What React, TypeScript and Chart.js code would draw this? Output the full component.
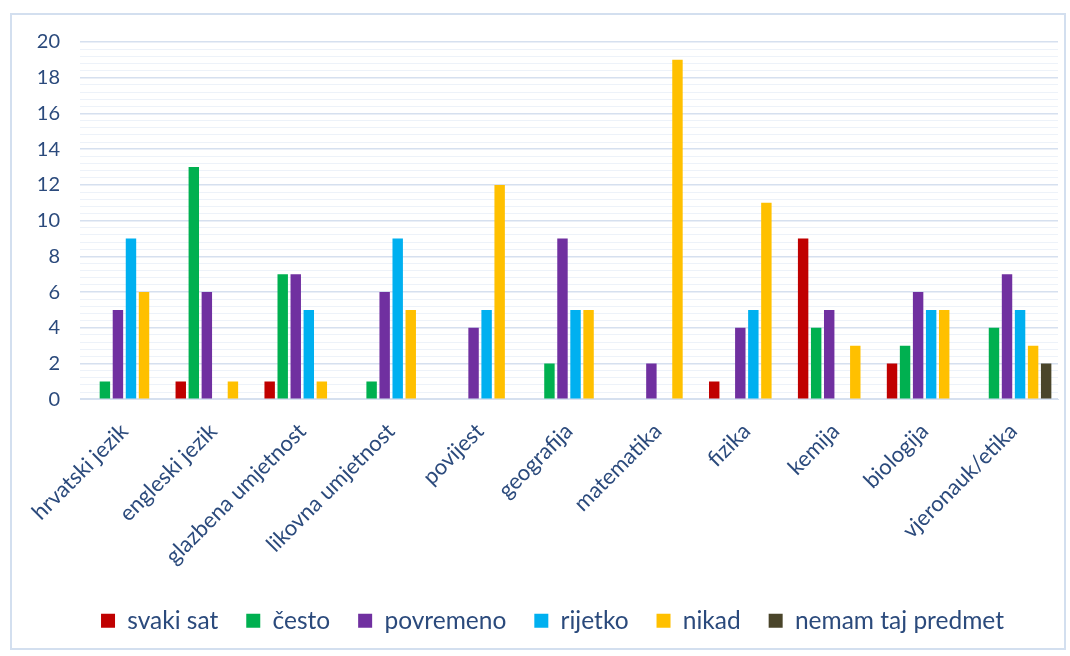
import React, { useEffect, useRef } from "react";
import { Chart, registerables } from "chart.js";

Chart.register(...registerables);

const categories = [
  "hrvatski jezik",
  "engleski jezik",
  "glazbena umjetnost",
  "likovna umjetnost",
  "povijest",
  "geografija",
  "matematika",
  "fizika",
  "kemija",
  "biologija",
  "vjeronauk/etika",
];

const seriesNames = ["svaki sat", "često", "povremeno", "rijetko", "nikad", "nemam taj predmet"];
const seriesColors = ["#C00000", "#00B050", "#7030A0", "#00B0F0", "#FFC000", "#4A452A"];

const svakiSat = [0, 1, 1, 0, 0, 0, 0, 1, 9, 2, 0];
const cesto = [1, 13, 7, 1, 0, 2, 0, 0, 4, 3, 4];
const povremeno = [5, 6, 7, 6, 4, 9, 2, 4, 5, 6, 7];
const rijetko = [9, 0, 5, 9, 5, 5, 0, 5, 0, 5, 5];
const nikad = [6, 1, 1, 5, 12, 5, 19, 11, 3, 5, 3];
const nemam = [0, 0, 0, 0, 0, 0, 0, 0, 0, 0, 2];

const seriesValues = [svakiSat, cesto, povremeno, rijetko, nikad, nemam];

const yMin = 0;
const yMax = 20;
const yMajorStep = 2;
const yMinorStep = 0.4;

const TEXT = "#2B4A7C";
const FONT = "Lato, 'Open Sans', sans-serif";

function isMajor(v: number) {
  const r = v / yMajorStep;
  return Math.abs(r - Math.round(r)) < 1e-6;
}

export default function App() {
  const ref = useRef<HTMLCanvasElement | null>(null);

  useEffect(() => {
    if (!ref.current) return;
    const chart = new Chart(ref.current, {
      type: "bar",
      data: {
        labels: categories,
        datasets: seriesNames.map((name, i) => ({
          label: name,
          data: seriesValues[i],
          backgroundColor: seriesColors[i],
          borderWidth: 0,
          categoryPercentage: 0.88,
          barPercentage: 0.8,
        })),
      },
      options: {
        animation: false,
        responsive: true,
        maintainAspectRatio: false,
        layout: { padding: { top: 27, right: 6, left: 35, bottom: 5 } },
        plugins: {
          tooltip: { enabled: false },
          legend: {
            position: "bottom",
            labels: {
              boxWidth: 14,
              boxHeight: 14,
              padding: 28,
              color: TEXT,
              font: { family: FONT, size: 24.5 },
            },
          },
        },
        scales: {
          x: {
            grid: { display: false },
            border: { display: true, color: "#D6E0EF" },
            ticks: {
              color: TEXT,
              font: { family: FONT, size: 22 },
              minRotation: 45,
              maxRotation: 45,
              autoSkip: false,
              padding: 11,
            },
          },
          y: {
            min: yMin,
            max: yMax,
            afterFit: (scale: any) => {
              scale.width = 33;
              scale.paddingTop = 0;
              scale.paddingBottom = 0;
              scale._computeLabelArea = () => undefined;
            },
            border: { display: false },
            grid: {
              drawTicks: false,
              color: (ctx: any) => (isMajor(ctx.tick.value) ? "#D6E0EF" : "#EDF2F9"),
              lineWidth: (ctx: any) => (isMajor(ctx.tick.value) ? 1.5 : 1),
            },
            ticks: {
              stepSize: yMinorStep,
              autoSkip: false,
              color: TEXT,
              font: { family: FONT, size: 20 },
              padding: 20,
              callback: (v: any) => (isMajor(Number(v)) ? String(Math.round(Number(v))) : ""),
            },
          },
        },
      },
    });
    return () => chart.destroy();
  }, []);

  return (
    <div
      style={{
        position: "absolute",
        left: 10,
        top: 13,
        width: 1056,
        height: 637,
        border: "2px solid #D3DFEF",
        boxSizing: "border-box",
        background: "#fff",
      }}
    >
      <canvas ref={ref} />
    </div>
  );
}
